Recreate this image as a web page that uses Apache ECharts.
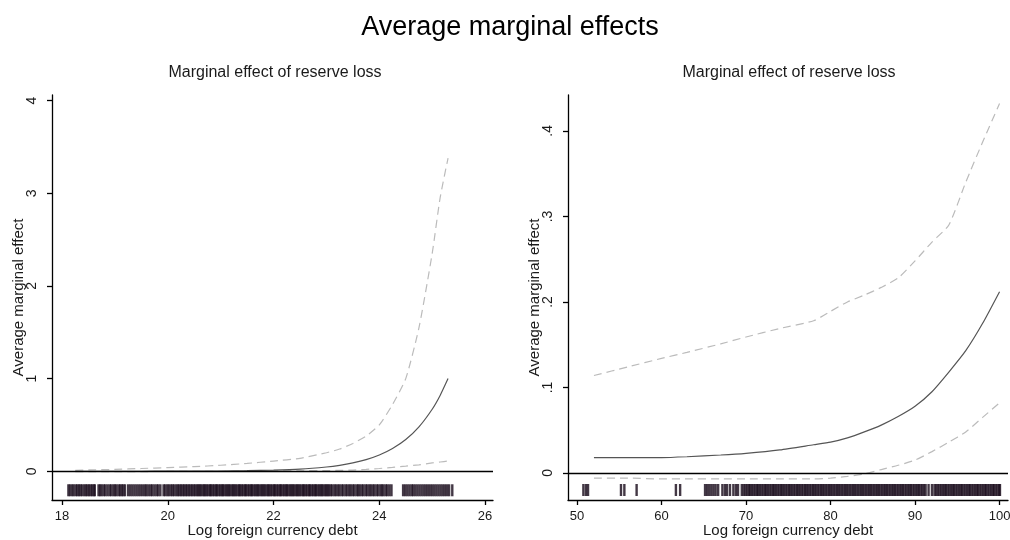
<!DOCTYPE html>
<html>
<head>
<meta charset="utf-8">
<script src="https://cdn.jsdelivr.net/npm/echarts@6/dist/echarts.min.js"></script>
<style>
  html, body { margin: 0; padding: 0; background: #fff; }
  #chart { width: 1010px; height: 540px; }
</style>
</head>
<body>
<div id="chart"></div>
<script>
// Left panel: marginal effect against log foreign currency debt (18-26)
const leftX = [18.25, 18.5, 19, 19.5, 20, 20.5, 21, 21.5, 22, 22.5, 23, 23.25, 23.5, 23.75, 24, 24.25, 24.5, 24.75, 25, 25.15, 25.3];
const leftEffect = [0.0001, 0.0001, 0.0002, 0.0004, 0.0008, 0.0016, 0.003, 0.006, 0.012, 0.023, 0.046, 0.064, 0.09, 0.125, 0.175, 0.245, 0.342, 0.479, 0.669, 0.818, 1.0];
const leftUpper = [0.01, 0.015, 0.02, 0.03, 0.04, 0.05, 0.065, 0.085, 0.11, 0.14, 0.2, 0.24, 0.3, 0.38, 0.5, 0.72, 1.0, 1.55, 2.35, 2.95, 3.38];
const leftLower = [-0.004, -0.004, -0.003, -0.003, -0.002, -0.001, 0, 0.001, 0.003, 0.005, 0.008, 0.01, 0.013, 0.02, 0.03, 0.042, 0.055, 0.07, 0.09, 0.1, 0.11];
const leftRug = [
  18.12, 18.15, 18.19, 18.22, 18.26, 18.29, 18.32, 18.35, 18.38, 18.42, 18.45, 18.48, 18.51, 18.54, 18.57, 18.6, 18.62,
  18.69, 18.72, 18.75, 18.79, 18.82, 18.86, 18.9, 18.93, 18.97, 19.0, 19.03, 19.07, 19.1, 19.13, 19.16, 19.19,
  19.25, 19.29, 19.33, 19.37, 19.41, 19.45, 19.49, 19.53, 19.57, 19.6, 19.64, 19.68, 19.71, 19.75, 19.79, 19.82, 19.86,
  19.92, 19.95, 19.99, 20.02, 20.06, 20.09, 20.12, 20.16, 20.19, 20.22, 20.25, 20.28, 20.31, 20.34, 20.37, 20.4, 20.43, 20.46, 20.49, 20.52,
  20.55, 20.58, 20.6, 20.63, 20.66, 20.69, 20.71, 20.74, 20.77, 20.8, 20.82, 20.85, 20.88, 20.91, 20.93, 20.96, 20.99, 21.02, 21.04, 21.07,
  21.1, 21.13, 21.15, 21.18, 21.21, 21.24, 21.26, 21.29, 21.32, 21.35, 21.37, 21.4, 21.43, 21.46, 21.48, 21.51, 21.54, 21.57, 21.59, 21.62,
  21.65, 21.68, 21.7, 21.73, 21.76, 21.79, 21.81, 21.84, 21.87, 21.9, 21.92, 21.95, 21.98, 22.01, 22.03, 22.06, 22.09, 22.12, 22.14, 22.17,
  22.2, 22.23, 22.25, 22.28, 22.31, 22.34, 22.36, 22.39, 22.42, 22.45, 22.47, 22.5, 22.53, 22.56, 22.58, 22.61, 22.64, 22.67, 22.69, 22.72,
  22.75, 22.78, 22.8, 22.83, 22.86, 22.89, 22.91, 22.94, 22.97, 23.0, 23.02, 23.05, 23.08,
  23.11, 23.15, 23.18, 23.22, 23.25, 23.29, 23.32, 23.36, 23.39, 23.43, 23.46, 23.5, 23.53, 23.57, 23.6, 23.63, 23.67, 23.7, 23.74, 23.77,
  23.81, 23.84, 23.88, 23.91, 23.95, 23.98, 24.02, 24.05, 24.08, 24.12, 24.15, 24.19, 24.23,
  24.45, 24.49, 24.53, 24.57, 24.61, 24.64, 24.68, 24.72, 24.76, 24.8, 24.84, 24.88, 24.92, 24.96, 25.0, 25.04, 25.08, 25.12, 25.16, 25.2,
  25.24, 25.28, 25.32, 25.38
];
const leftXTicks = [18, 20, 22, 24, 26];
const leftYTicks = [0, 1, 2, 3, 4];

// Right panel: same effect on the 50-100 scale
const rightX = [52, 56, 60, 63, 67, 70, 74, 78, 80, 82, 84, 86, 88, 90, 92, 94, 96, 98, 100];
const rightEffect = [0.018, 0.018, 0.018, 0.019, 0.021, 0.023, 0.027, 0.033, 0.036, 0.041, 0.048, 0.056, 0.066, 0.078, 0.095, 0.118, 0.143, 0.175, 0.212];
const rightUpper = [0.114, 0.124, 0.134, 0.141, 0.151, 0.159, 0.169, 0.178, 0.189, 0.2, 0.208, 0.217, 0.228, 0.248, 0.27, 0.29, 0.34, 0.387, 0.432];
const rightLower = [-0.006, -0.006, -0.007, -0.007, -0.007, -0.007, -0.007, -0.007, -0.006, -0.004, -0.001, 0.004, 0.009, 0.015, 0.025, 0.036, 0.048, 0.065, 0.082];
const rightRug = [
  50.75, 51.05, 51.3, 55.2, 55.6, 57.05, 61.7, 62.2,
  65.15, 65.4, 65.65, 65.9, 66.15, 66.4, 66.7, 67.2, 67.5, 67.75, 68.1, 68.5, 68.8, 69.05, 69.5, 69.75,
  69.95, 70.15, 70.35, 70.5, 70.7, 70.9, 71.1, 71.3, 71.45, 71.65, 71.85, 72.05, 72.25, 72.4, 72.6, 72.8, 73.0, 73.2, 73.35, 73.55,
  73.75, 73.95, 74.15, 74.3, 74.5, 74.7, 74.9, 75.1, 75.25, 75.45, 75.65, 75.85, 76.05, 76.2, 76.4, 76.6, 76.8, 77.0, 77.15, 77.35,
  77.55, 77.75, 77.95, 78.1, 78.3, 78.5, 78.7, 78.9, 79.05, 79.25, 79.45, 79.65, 79.85, 80.0, 80.2, 80.4, 80.6, 80.8, 80.95, 81.15,
  81.35, 81.55, 81.75, 81.9, 82.1, 82.3, 82.5, 82.7, 82.85, 83.05, 83.25, 83.45, 83.65, 83.8, 84.0, 84.2, 84.4, 84.6, 84.75, 84.95,
  85.15, 85.35, 85.55, 85.7, 85.9, 86.1, 86.3, 86.5, 86.65, 86.85, 87.05, 87.25, 87.45, 87.6, 87.8, 88.0, 88.2, 88.4, 88.55, 88.75,
  88.95, 89.15, 89.35, 89.5, 89.7, 89.9, 90.1, 90.3, 90.45, 90.65, 90.85, 91.05, 91.25, 91.6, 92.0, 92.3, 92.5, 92.7, 92.9, 93.1,
  93.3, 93.5, 93.65, 93.85, 94.05, 94.25, 94.45, 94.6, 94.8, 95.0, 95.2, 95.4, 95.55, 95.75, 95.95, 96.15, 96.35, 96.5, 96.7, 96.9,
  97.1, 97.3, 97.45, 97.65, 97.85, 98.05, 98.25, 98.4, 98.6, 98.8, 99.0, 99.2, 99.35, 99.55, 99.75, 99.95, 100.05
];
const rightXTicks = [50, 60, 70, 80, 90, 100];
const rightYTicks = [0, 0.1, 0.2, 0.3, 0.4];

const FONT = '"Liberation Sans", Arial, sans-serif';
const TXT = '#1a1a1a';

const pairs = (xs, ys) => xs.map((x, i) => [x, ys[i]]);

function xAxisFor(grid, min, max, ticks) {
  return {
    type: 'value', gridIndex: grid, min: min, max: max,
    name: 'Log foreign currency debt', nameLocation: 'middle', nameGap: 23, nameMoveOverlap: false,
    nameTextStyle: { fontFamily: FONT, fontSize: 15, color: TXT },
    axisLine: { onZero: false, lineStyle: { color: '#000', width: 1.3 } },
    axisTick: { show: true, length: 5, customValues: ticks, lineStyle: { color: '#000', width: 1.3 } },
    axisLabel: { customValues: ticks, margin: 10, fontFamily: FONT, fontSize: 13, color: TXT },
    splitLine: { show: false }
  };
}

function yAxisFor(grid, min, max, ticks, fmt) {
  return {
    type: 'value', gridIndex: grid, min: min, max: max,
    name: 'Average marginal effect', nameLocation: 'middle', nameGap: 26, nameMoveOverlap: false,
    nameTextStyle: { fontFamily: FONT, fontSize: 15, color: TXT },
    axisLine: { show: true, lineStyle: { color: '#000', width: 1.3 } },
    axisTick: { show: true, length: 5, customValues: ticks, lineStyle: { color: '#000', width: 1.3 } },
    axisLabel: { customValues: ticks, rotate: 90, margin: 13, fontFamily: FONT, fontSize: 14, color: TXT, formatter: fmt },
    splitLine: { show: false }
  };
}

const solidStyle = { color: '#555', width: 1.2, type: 'solid' };
const dashStyle = { color: '#bbb', width: 1.2, type: [8, 5] };

function curve(idx, data, style, z) {
  return {
    type: 'line', xAxisIndex: idx, yAxisIndex: idx, data: data,
    showSymbol: false, smooth: 0.2, lineStyle: style, z: z, silent: true
  };
}

function zeroLine(idx) {
  return {
    type: 'line', xAxisIndex: idx, yAxisIndex: idx, data: [], silent: true,
    markLine: {
      silent: true, symbol: 'none', label: { show: false },
      lineStyle: { color: '#000', width: 1.3, type: 'solid' },
      data: [{ yAxis: 0 }]
    }
  };
}

function rug(idx, values, level) {
  return {
    type: 'scatter', xAxisIndex: idx, yAxisIndex: idx, silent: true,
    symbol: 'rect', symbolSize: [2.4, 12],
    itemStyle: { color: '#1a0c1c', opacity: 0.82 },
    data: values.map(v => [v, level])
  };
}

const chart = echarts.init(document.getElementById('chart'), null, { renderer: 'canvas' });
chart.setOption({
  backgroundColor: '#fff',
  animation: false,
  title: [
    { text: 'Average marginal effects', left: 505, top: 9, textAlign: 'center',
      textStyle: { fontFamily: FONT, fontSize: 27, fontWeight: 'normal', color: '#000' } },
    { text: 'Marginal effect of reserve loss', left: 270, top: 60, textAlign: 'center',
      textStyle: { fontFamily: FONT, fontSize: 16, fontWeight: 'normal', color: TXT } },
    { text: 'Marginal effect of reserve loss', left: 784, top: 60, textAlign: 'center',
      textStyle: { fontFamily: FONT, fontSize: 16, fontWeight: 'normal', color: TXT } }
  ],
  grid: [
    { left: 52, top: 95, width: 441, height: 405, containLabel: false, outerBoundsMode: 'none' },
    { left: 568, top: 95, width: 440, height: 405, containLabel: false, outerBoundsMode: 'none' }
  ],
  xAxis: [
    xAxisFor(0, 17.81, 26.15, leftXTicks),
    xAxisFor(1, 48.93, 101.0, rightXTicks)
  ],
  yAxis: [
    yAxisFor(0, -0.31, 4.06, leftYTicks, v => String(v)),
    yAxisFor(1, -0.0316, 0.442, rightYTicks, v => (v === 0 ? '0' : String(v).replace(/^0/, '')))
  ],
  series: [
    rug(0, leftRug, -0.205),
    zeroLine(0),
    curve(0, pairs(leftX, leftLower), dashStyle, 3),
    curve(0, pairs(leftX, leftUpper), dashStyle, 3),
    curve(0, pairs(leftX, leftEffect), solidStyle, 4),
    rug(1, rightRug, -0.0199),
    zeroLine(1),
    curve(1, pairs(rightX, rightLower), dashStyle, 3),
    curve(1, pairs(rightX, rightUpper), dashStyle, 3),
    curve(1, pairs(rightX, rightEffect), solidStyle, 4)
  ]
});
</script>
</body>
</html>
